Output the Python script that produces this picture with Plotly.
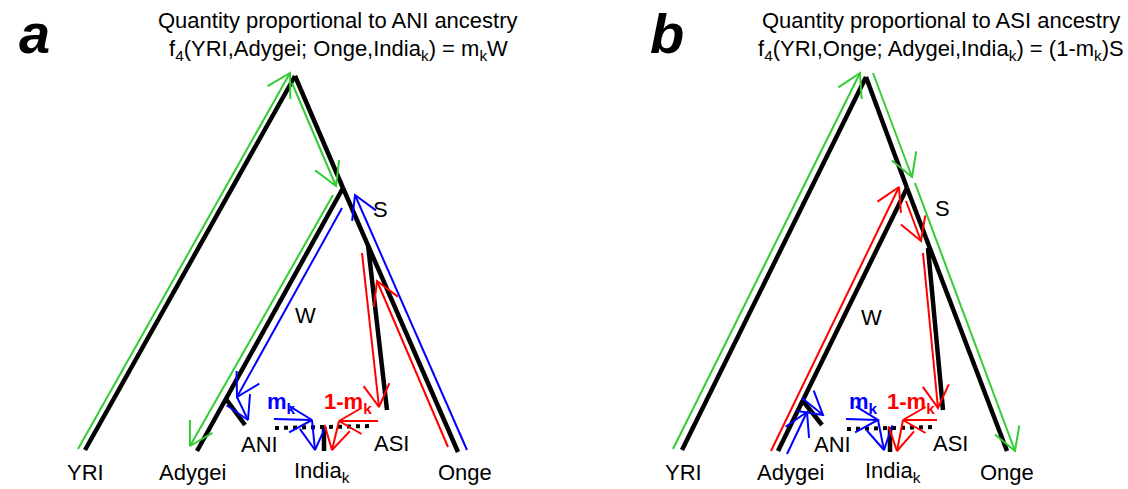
import math
import plotly.graph_objects as go

WIDTH, HEIGHT = 1128, 489
FONT = "Arial, Liberation Sans, Helvetica, sans-serif"
GREEN = "rgb(51,204,51)"
BLUE = "rgb(0,0,255)"
RED = "rgb(255,0,0)"

# ---------------- panel a: tree nodes (x, y with y growing downward) -------------
A_ROOT = (295, 76)
A_SPLIT = (343, 188)
A_YRI = (85, 450)
A_ADYGEI = (197, 451)
A_ANI_NODE = (226, 399)
A_ANI = (245, 425)
A_ASI_NODE = (368, 245)
A_ASI = (387, 410)
A_ONGE = (458, 452)
A_INDIA = [(324, 427), (324, 451)]
A_MIX = [(275, 428), (374, 426)]

# panel a: flow arrows as (start, tip)
A_GREEN = [((78, 449), (290, 73)), ((292, 83), (336, 186)), ((333, 195), (190, 446))]
A_BLUE = [((467, 450), (355, 195)), ((342, 208), (237, 397)), ((237, 397), (248, 420)),
          ((274, 419), (312, 420)), ((312, 420), (315, 450))]
A_RED = [((448, 447), (377, 281)), ((362, 253), (379, 407)), ((378, 421), (339, 421)),
         ((339, 421), (332, 450))]

# ---------------- panel b --------------------------------------------------------
B_ROOT = (866, 77)
B_SPLIT = (907, 188)
B_YRI = (682, 450)
B_ADYGEI = (778, 451)
B_ANI_NODE = (803, 401)
B_ANI = (822, 425)
B_ASI_NODE = (928, 248)
B_ASI = (943, 410)
B_ONGE = (1007, 451)
B_INDIA = [(890, 427), (890, 452)]
B_MIX = [(847, 429), (937, 427)]

B_GREEN = [((673, 449), (860, 73)), ((873, 73), (912, 177)), ((915, 183), (1015, 451))]
B_RED = [((771, 451), (899, 187)), ((906, 201), (921, 241)), ((923, 253), (938, 408)),
         ((937, 420), (903, 420)), ((903, 420), (897, 451))]
B_BLUE = [((787, 454), (807, 412)), ((802, 398), (823, 415)), ((846, 419), (878, 420)),
          ((878, 420), (884, 450))]

# ---------------- text ----------------------------------------------------------
A_TITLE = ["Quantity proportional to ANI ancestry",
           "f<sub>4</sub>(YRI,Adygei; Onge,India<sub>k</sub>) = m<sub>k</sub>W"]
B_TITLE = ["Quantity proportional to ASI ancestry",
           "f<sub>4</sub>(YRI,Onge; Adygei,India<sub>k</sub>) = (1-m<sub>k</sub>)S"]
LEAF_NAMES = ["YRI", "Adygei", "India<sub>k</sub>", "Onge"]


def tree_segments(root, split, yri, ady, ani_node, ani, asi_node, asi, onge, india):
    segs = [(yri, root), (root, split), (split, ady), (ani_node, ani),
            (split, onge), (asi_node, asi), (india[0], india[1])]
    xs, ys = [], []
    for p, q in segs:
        xs += [p[0], q[0], None]
        ys += [p[1], q[1], None]
    return xs, ys


def arrow_paths(arrows, head=26, spread=30):
    xs, ys = [], []
    for start, tip in arrows:
        dx, dy = start[0] - tip[0], start[1] - tip[1]
        ln = math.hypot(dx, dy)
        ux, uy = dx / ln, dy / ln
        arms = []
        for s in (1, -1):
            a = math.radians(spread * s)
            ax = ux * math.cos(a) - uy * math.sin(a)
            ay = ux * math.sin(a) + uy * math.cos(a)
            arms.append((tip[0] + head * ax, tip[1] + head * ay))
        xs += [start[0], tip[0], None, arms[0][0], tip[0], arms[1][0], None]
        ys += [start[1], tip[1], None, arms[0][1], tip[1], arms[1][1], None]
    return xs, ys


fig = go.Figure()


def add_lines(xs, ys, color, width, dash=None):
    fig.add_trace(go.Scatter(x=xs, y=ys, mode="lines", hoverinfo="skip",
                             line=dict(color=color, width=width, dash=dash)))


for tree, mix, greens, blues, reds in [
    ((A_ROOT, A_SPLIT, A_YRI, A_ADYGEI, A_ANI_NODE, A_ANI, A_ASI_NODE, A_ASI, A_ONGE, A_INDIA),
     A_MIX, A_GREEN, A_BLUE, A_RED),
    ((B_ROOT, B_SPLIT, B_YRI, B_ADYGEI, B_ANI_NODE, B_ANI, B_ASI_NODE, B_ASI, B_ONGE, B_INDIA),
     B_MIX, B_GREEN, B_BLUE, B_RED),
]:
    tx, ty = tree_segments(*tree)
    add_lines(tx, ty, "black", 4.5)
    add_lines([mix[0][0], mix[1][0]], [mix[0][1], mix[1][1]], "black", 4, dash="4px,5px")
    for arrows, col in [(greens, GREEN), (blues, BLUE), (reds, RED)]:
        ax, ay = arrow_paths(arrows)
        add_lines(ax, ay, col, 2)


def label(x, y, text, size=22, color="black", bold=False, italic=False):
    if bold:
        text = "<b>" + text + "</b>"
    if italic:
        text = "<i>" + text + "</i>"
    fig.add_annotation(x=x, y=y, text=text, showarrow=False, xanchor="center", yanchor="middle",
                       borderpad=0, font=dict(family=FONT, size=size, color=color))


# panel letters
label(34, 33, "a", size=56, bold=True, italic=True)
label(667, 33, "b", size=56, bold=True, italic=True)

# titles
for cx, title in [(338, A_TITLE), (941, B_TITLE)]:
    label(cx, 20, title[0])
    label(cx, 50, title[1])

# leaf labels
for xs in ([85, 192, 322, 465], [683, 790, 893, 1007]):
    for x, name in zip(xs, LEAF_NAMES):
        label(x, 472, name)

# inner labels
for ani_x, asi_x, s_pos, w_pos, mk_x, omk_x in [
    (259, 391, (380, 209), (305, 315), 281, 348),
    (832, 950, (942, 208), (871, 317), 863, 911),
]:
    label(ani_x, 444, "ANI")
    label(asi_x, 443, "ASI")
    label(s_pos[0], s_pos[1], "S")
    label(w_pos[0], w_pos[1], "W")
    label(mk_x, 403, "m<sub>k</sub>", color=BLUE, bold=True)
    label(omk_x, 403, "1-m<sub>k</sub>", color=RED, bold=True)

fig.update_layout(
    width=WIDTH, height=HEIGHT,
    margin=dict(l=0, r=0, t=0, b=0),
    paper_bgcolor="white", plot_bgcolor="white",
    showlegend=False,
    xaxis=dict(range=[0, WIDTH], visible=False, fixedrange=True),
    yaxis=dict(range=[HEIGHT, 0], visible=False, fixedrange=True),
)

fig.write_html("out.html")
